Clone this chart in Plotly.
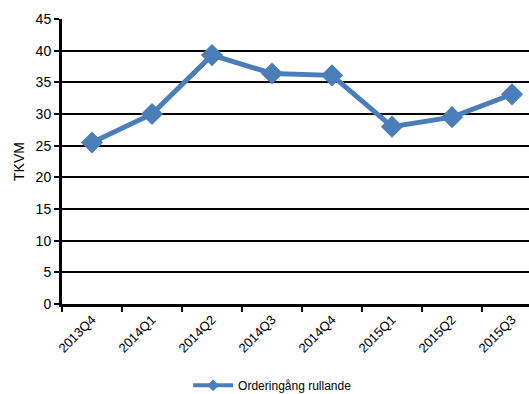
import plotly.graph_objects as go

categories = ["2013Q4", "2014Q1", "2014Q2", "2014Q3", "2014Q4", "2015Q1", "2015Q2", "2015Q3"]
values = [25.5, 30.0, 39.3, 36.4, 36.1, 28.0, 29.5, 33.1]
series_name = "Orderingång rullande"
y_ticks = [0, 5, 10, 15, 20, 25, 30, 35, 40, 45]

color = "#4a7ebb"

fig = go.Figure()
fig.add_trace(go.Scatter(
    x=categories, y=values, name=series_name, mode="lines+markers",
    line=dict(color=color, width=5),
    marker=dict(symbol="diamond", size=17, color=color),
    showlegend=False,
))
# legend proxy with a small marker, as in the reference
fig.add_trace(go.Scatter(
    x=[None], y=[None], name=series_name, mode="lines+markers",
    line=dict(color=color, width=4),
    marker=dict(symbol="diamond", size=9, color=color),
    showlegend=True,
))

fig.update_layout(
    width=529, height=394,
    margin=dict(l=62, r=0, t=19, b=90),
    paper_bgcolor="white", plot_bgcolor="white",
    font=dict(family="Liberation Sans, Arial, sans-serif", color="black"),
    showlegend=True,
    legend=dict(orientation="h", x=0.451, xanchor="center",
                yref="container", y=0.022, yanchor="middle",
                font=dict(size=12), itemwidth=40),
)
fig.update_xaxes(
    type="category", range=[-0.5, 7.283], automargin=False,
    tickson="boundaries", ticks="outside", ticklen=5, tickwidth=2, tickcolor="black",
    showline=True, linecolor="black", linewidth=3,
    showgrid=False, tickangle=-45, tickfont=dict(size=13),
)
fig.update_yaxes(
    range=[0, 45], tickvals=y_ticks, automargin=False,
    ticks="outside", ticklen=5, tickwidth=2, tickcolor="black",
    showline=True, linecolor="black", linewidth=3,
    showgrid=True, gridcolor="black", gridwidth=2,
    tickfont=dict(size=14), zeroline=False,
    title=dict(text="TKVM", font=dict(size=14), standoff=8),
)
fig.write_html("out.html")
